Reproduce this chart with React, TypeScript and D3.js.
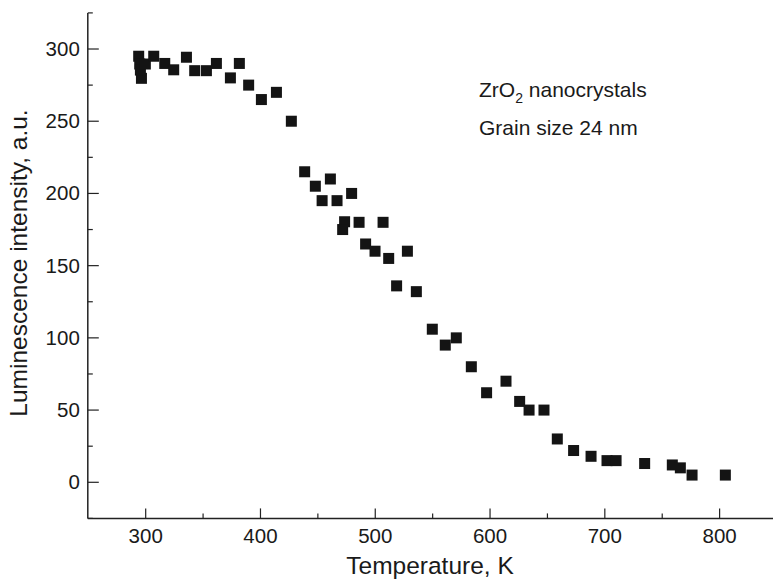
import React from "react";
import * as d3 from "d3";

const temperature = [293.9, 294.8, 296.3, 295.4, 299.7, 307, 316.6, 324.4, 335.5, 342.7, 352.9, 361.6, 373.8, 381.6, 389.7, 400.8, 413.9, 426.9, 438.5, 447.8, 460.9, 453.7, 466.7, 479.4, 473.3, 471.6, 485.9, 506.8, 491.6, 499.8, 511.7, 528, 518.6, 535.8, 549.7, 570.6, 561, 583.7, 597, 613.9, 625.8, 634, 647, 658.6, 672.8, 688, 701.9, 709.8, 734.7, 758.8, 765.8, 776, 805];
const intensity = [295, 289.6, 279.7, 285.4, 289.6, 295, 290, 285.6, 294.3, 285, 285, 290, 280, 290, 275, 265, 270, 250, 215, 205, 210, 195, 195, 200, 180.4, 175, 180, 180, 165, 160, 155, 160, 136, 132, 106, 100, 95, 80, 62, 70, 56, 50, 50, 30, 22, 18, 15, 15, 13, 12, 10, 5, 5];

const xMajor = [300, 400, 500, 600, 700, 800];
const xMinor = [350, 450, 550, 650, 750];
const yMajor = [0, 50, 100, 150, 200, 250, 300];
const yMinor = [-25, 25, 75, 125, 175, 225, 275, 325];

const W = 773;
const H = 580;
const FONT = "'Liberation Sans', Arial, Helvetica, sans-serif";

export default function App() {
  const x = d3.scaleLinear().domain([250, 850]).range([88.3, 777]);
  const y = d3.scaleLinear().domain([-25, 325]).range([518.4, 12.9]);
  const axisX = x(250) - 0.5;
  const axisY = y(-25);
  const sq = 11;
  return (
    <svg width={W} height={H} style={{ position: "absolute", left: 0, top: 0, background: "#fff" }}>
      <g fontFamily={FONT} fill="#1a1a1a">
        <line x1={axisX} y1={y(325)} x2={axisX} y2={axisY} stroke="#222" strokeWidth={1.5} />
        <line x1={axisX} y1={axisY} x2={W} y2={axisY} stroke="#222" strokeWidth={1.5} />
        {xMajor.map((v) => (
          <g key={"xm" + v}>
            <line x1={x(v)} x2={x(v)} y1={axisY} y2={axisY - 10} stroke="#222" strokeWidth={1.2} />
            <text x={x(v)} y={axisY + 25} textAnchor="middle" fontSize={20.5}>{v}</text>
          </g>
        ))}
        {xMinor.map((v) => (
          <line key={"xn" + v} x1={x(v)} x2={x(v)} y1={axisY} y2={axisY - 5} stroke="#222" strokeWidth={1.2} />
        ))}
        {yMajor.map((v) => (
          <g key={"ym" + v}>
            <line x1={axisX} x2={axisX + 11} y1={y(v)} y2={y(v)} stroke="#222" strokeWidth={1.2} />
            <text x={axisX - 8} y={y(v) + 7} textAnchor="end" fontSize={20.5}>{v}</text>
          </g>
        ))}
        {yMinor.map((v) => (
          <line key={"yn" + v} x1={axisX} x2={axisX + 5} y1={y(v)} y2={y(v)} stroke="#222" strokeWidth={1.2} />
        ))}
        {temperature.map((t, i) => (
          <rect key={i} x={x(t) - sq / 2} y={y(intensity[i]) - sq / 2} width={sq} height={sq} fill="#141414" />
        ))}
        <text x={479} y={97} fontSize={21}>
          ZrO<tspan fontSize={14} dy={6}>2</tspan><tspan dy={-6}> nanocrystals</tspan>
        </text>
        <text x={479} y={135} fontSize={21}>Grain size 24 nm</text>
        <text x={430} y={574} textAnchor="middle" fontSize={24.5}>Temperature, K</text>
        <text transform={`translate(27, 263) rotate(-90)`} textAnchor="middle" fontSize={24.5}>Luminescence intensity, a.u.</text>
      </g>
    </svg>
  );
}
